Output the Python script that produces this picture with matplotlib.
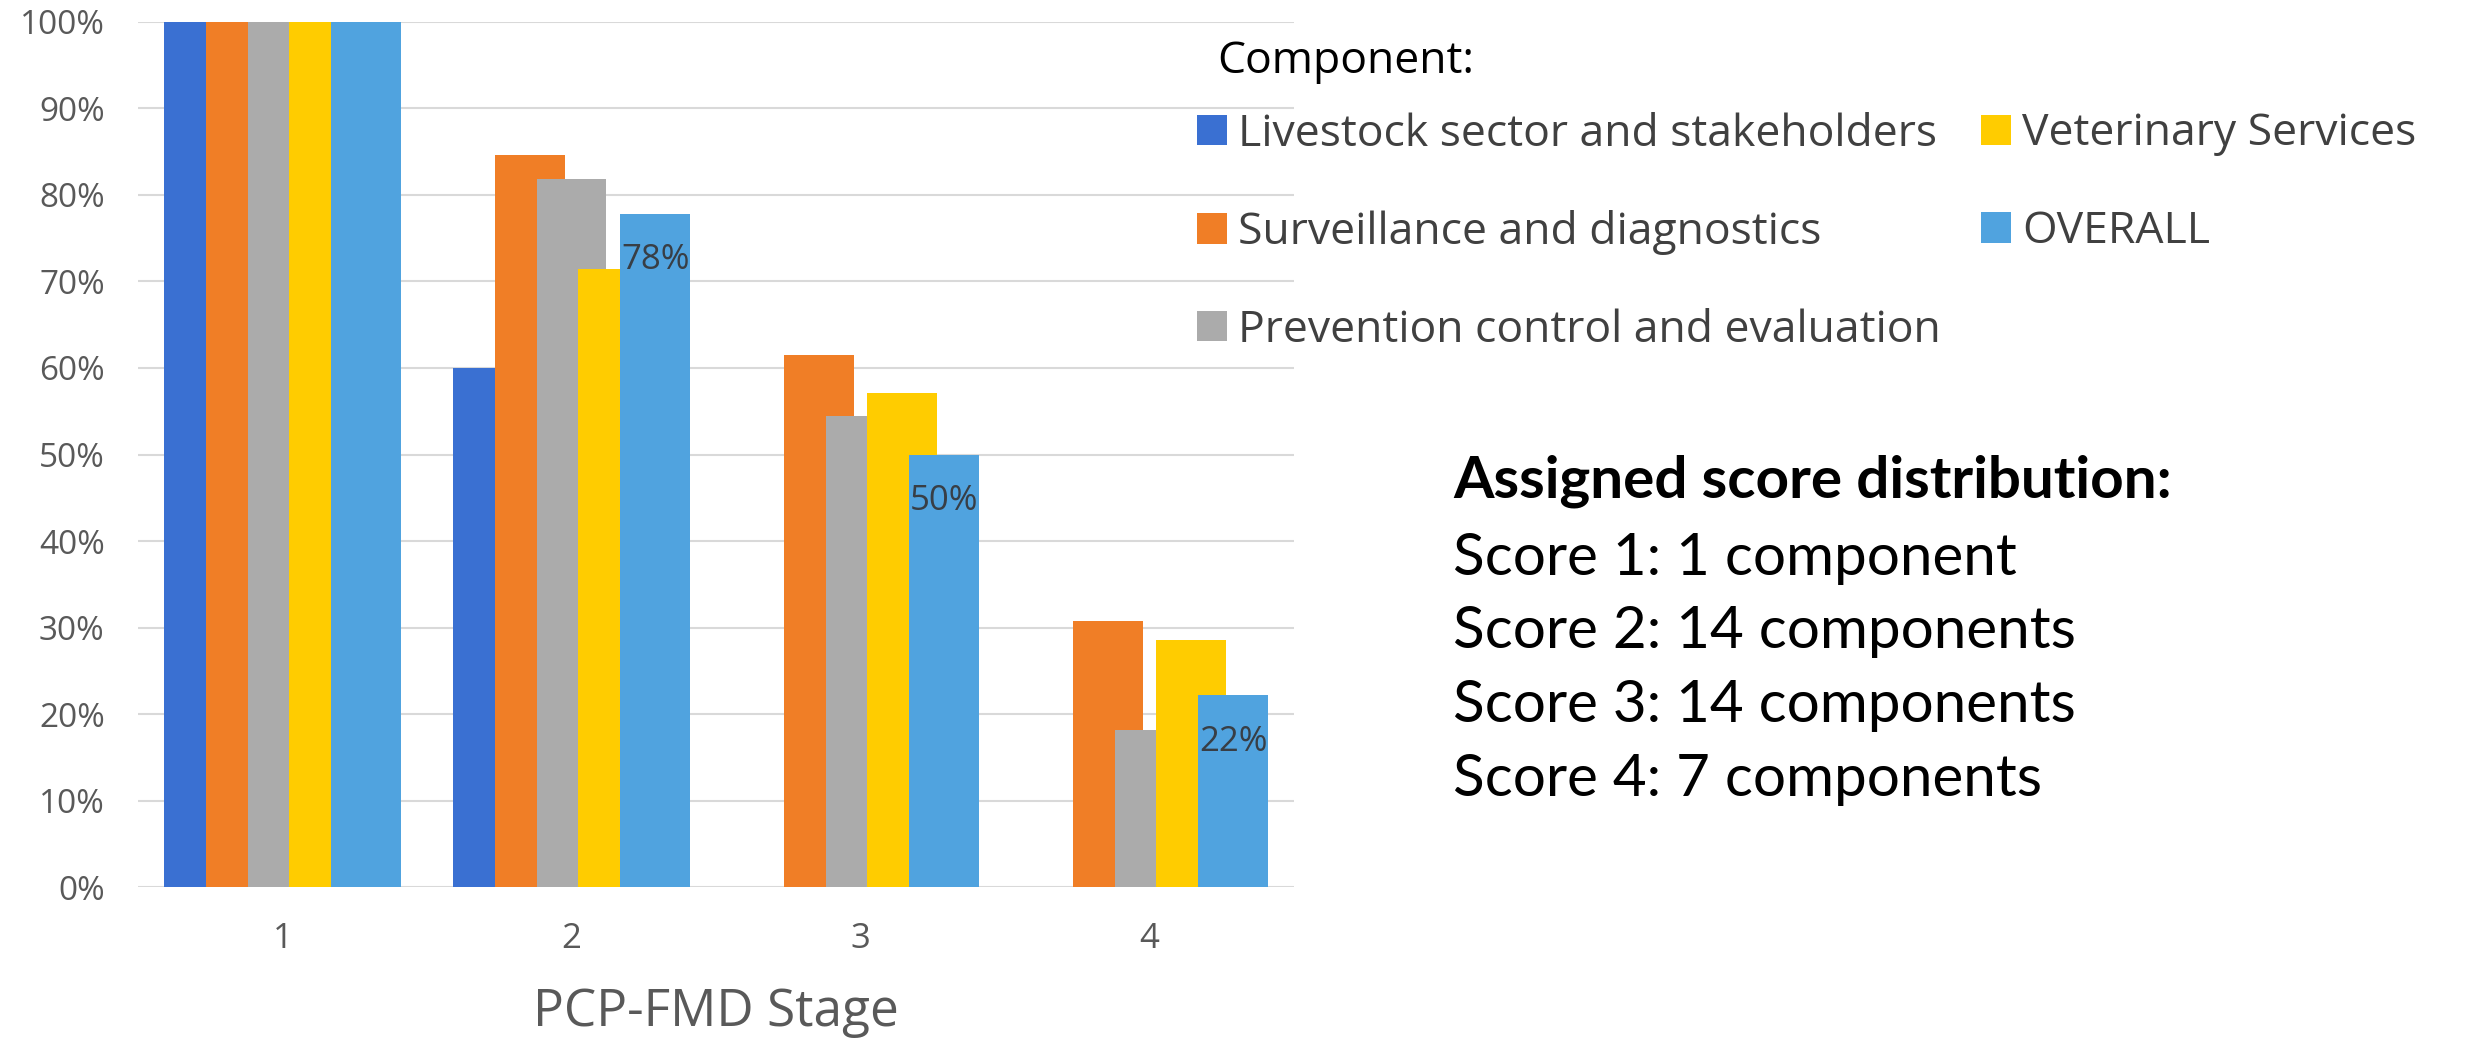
import matplotlib.pyplot as plt
import numpy as np
from matplotlib.ticker import FuncFormatter

plt.rcParams['font.family'] = ['Open Sans', 'DejaVu Sans']

# share of components reaching each PCP-FMD stage (%)
stages = ["1", "2", "3", "4"]
components = ["Livestock sector and stakeholders", "Surveillance and diagnostics",
              "Prevention control and evaluation", "Veterinary Services", "OVERALL"]
livestock = [100, 60.0, 0, 0]
surveillance = [100, 84.6, 61.5, 30.8]
prevention = [100, 81.8, 54.5, 18.2]
veterinary = [100, 71.4, 57.1, 28.6]
overall = [100, 77.8, 50.0, 22.2]
overall_labelled = [1, 2, 3]  # stages whose OVERALL bar gets a value label

score_title = "Assigned score distribution:"
score_lines = ["Score 1: 1 component", "Score 2: 14 components",
               "Score 3: 14 components", "Score 4: 7 components"]

colors = ['#3A70D2', '#F07E26', '#ABABAB', '#FFCC00', '#50A3DF']
series = [livestock, surveillance, prevention, veterinary, overall]

W, H = 2474, 1040
fig = plt.figure(figsize=(W / 100, H / 100), dpi=100)
ax = fig.add_axes([138 / W, 1 - 887.3 / H, (1294 - 138) / W, (887.3 - 21.7) / H])

x = np.arange(len(stages))
step = 0.145
width = 0.242
handles = []
for i, (vals, c) in enumerate(zip(series, colors)):
    bars = ax.bar(x + (i - 2) * step, vals, width, color=c, zorder=2 + i)
    handles.append(bars)

for j in overall_labelled:
    ax.annotate(f"{overall[j]:.0f}%", xy=(x[j] + 2 * step, overall[j]),
                xytext=(0, -40), textcoords='offset points', ha='center', va='baseline',
                fontsize=25, color='#383E45', zorder=10)

ax.set_xlim(-0.5, 3.5)
ax.set_ylim(0, 100)
ax.set_xticks(x)
ax.set_xticklabels(stages)
ax.set_yticks(range(0, 101, 10))
ax.yaxis.set_major_formatter(FuncFormatter(lambda v, p: f"{v:.0f}%"))
ax.yaxis.grid(True, color='#D9D9D9', lw=1.5)
ax.set_axisbelow(True)
for s in ax.spines.values():
    s.set_visible(False)
ax.tick_params(axis='y', length=0, labelsize=24, labelcolor='#595959', pad=24)
ax.tick_params(axis='x', length=0, labelsize=25, labelcolor='#595959', pad=25)

ax.set_xlabel("PCP-FMD Stage", fontsize=37, color='#595959', va='baseline')
ax.xaxis.set_label_coords(0.5, -0.160)

# legend in two columns to the right of the plot
fig.text(1217 / W, 1 - 73 / H, "Component:", fontsize=32, color='black', va='baseline')
leg = fig.legend(handles, components, ncol=2, loc='upper left',
                 bbox_to_anchor=(1197 / W, 1 - 112 / H), frameon=False, fontsize=32,
                 handlelength=0.68, handleheight=0.68, handletextpad=0.25,
                 labelspacing=1.2, columnspacing=0.9, borderpad=0, borderaxespad=0)
for t in leg.get_texts():
    t.set_color('#404040')

# score summary
fig.text(1453 / W, 1 - 497 / H, score_title, fontfamily='Lato', fontweight='bold',
         fontsize=42, color='black', va='baseline')
for k, line in enumerate(score_lines):
    fig.text(1453 / W, 1 - (575 + 73.5 * k) / H, line, fontfamily='Lato',
             fontsize=42, color='black', va='baseline')

fig.savefig('out.png', dpi=100)
